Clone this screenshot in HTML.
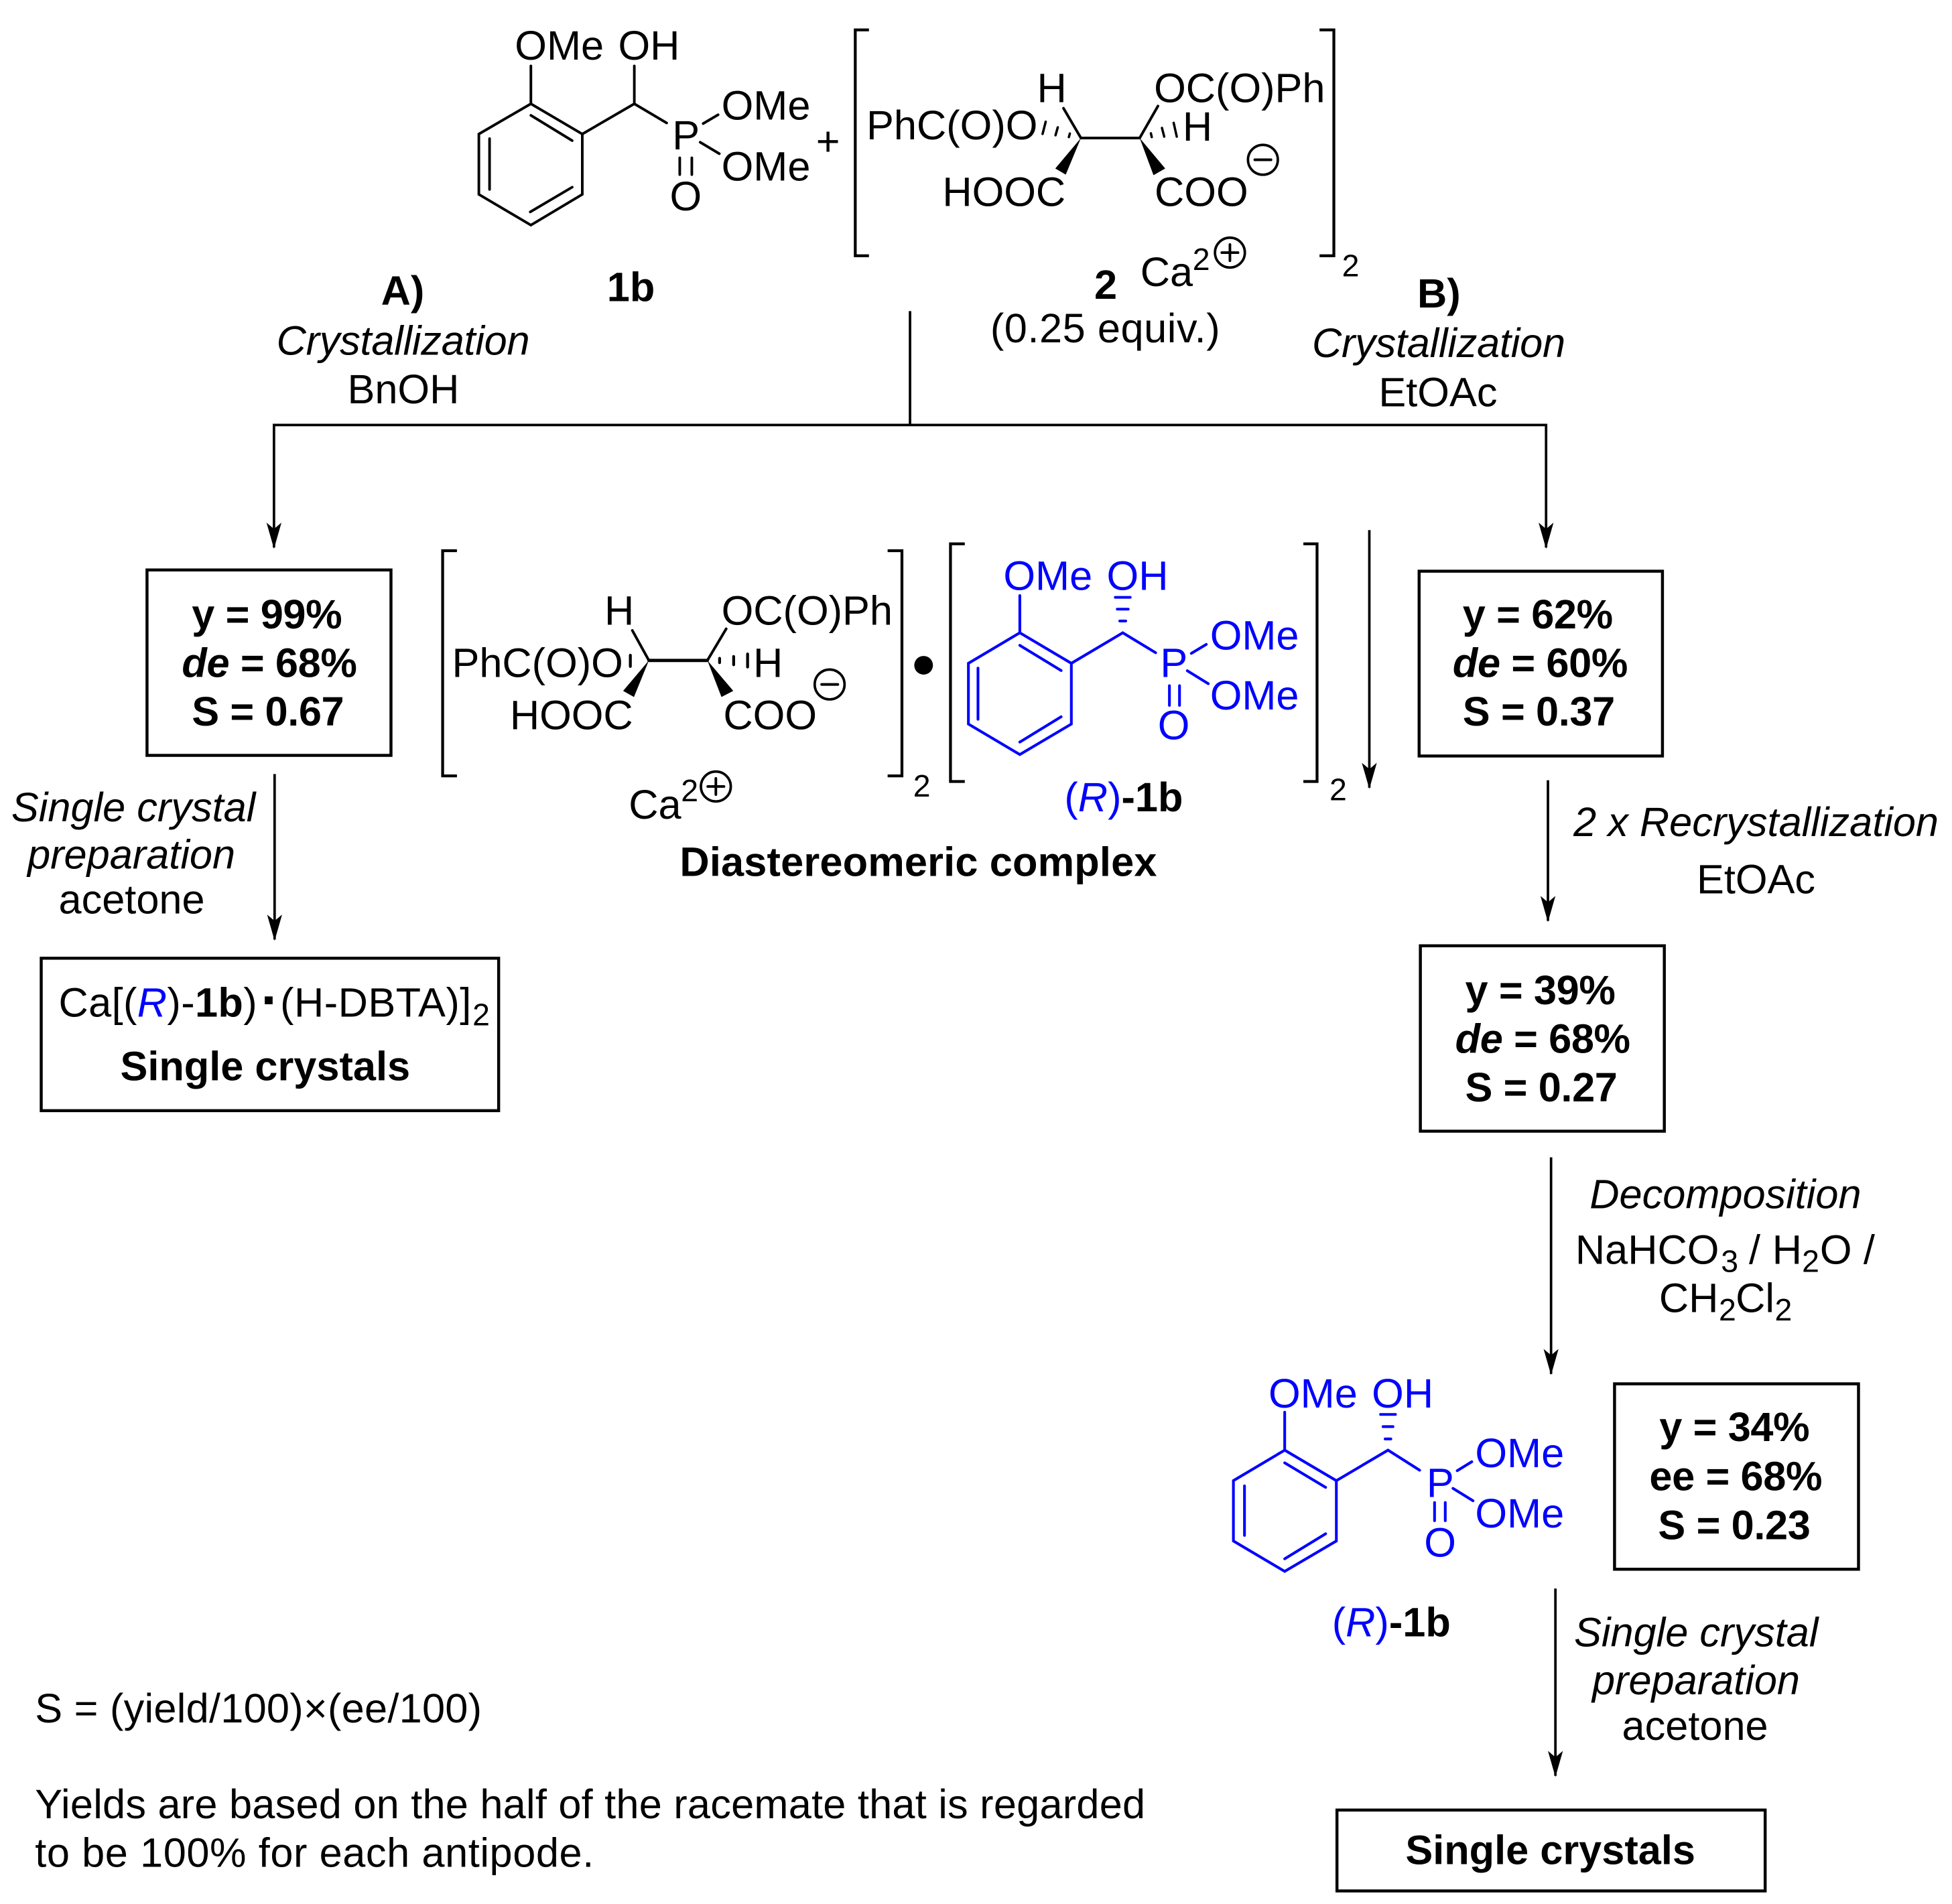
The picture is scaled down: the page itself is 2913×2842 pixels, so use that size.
<!DOCTYPE html>
<html><head><meta charset="utf-8"><style>
html,body{margin:0;padding:0;background:#fff}
svg{display:block}
text{font-family:"Liberation Sans",Arial,sans-serif;font-size:33px;fill:#000;white-space:pre}
.b{font-weight:bold}.i{font-style:italic}.bl{fill:#00f}.s{font-size:25px}
.t{letter-spacing:-.2px}
.c{letter-spacing:-.13px}
.k{stroke:#000;stroke-width:2.1;fill:none;stroke-linecap:round;stroke-linejoin:miter}
.u{stroke:#00f;stroke-width:2.2;fill:none;stroke-linecap:round;stroke-linejoin:miter}
.box{stroke:#000;stroke-width:2.4;fill:none}
.br{stroke:#000;stroke-width:2.3;fill:none}
.ln{stroke:#000;stroke-width:2;fill:none}
.h{stroke:#000;stroke-width:1.9;fill:none;stroke-linecap:round}
</style></head><body>
<svg xmlns="http://www.w3.org/2000/svg" width="2913" height="2842" viewBox="0 0 1568 1530">
<rect width="1568" height="1530" fill="#fff"/>

<!-- 1b top -->
<path class="k" d="M426.4 83.4L467.7 107.7V156.2L426.4 180.9L384.6 156.2V107.7Z"/>
<path class="k" d="M426.4 92.7L459.6 113M393.2 111.4V152.2M425.9 170.3L459.6 150.4M426.4 53V83.4M467.7 107.7L509.5 83.4L535.5 98.8M509.5 53V83.4M564.8 99.3L576.8 92.2M562.4 114.3L577.8 123.5M546 126.8V140.3M555.7 126.8V140.3"/>
<text x="413.500" y="48">OMe</text><text x="496.500" y="48">OH</text>
<text x="540" y="120">P</text><text x="538" y="169">O</text>
<text x="579.500" y="96">OMe</text><text x="579.500" y="145">OMe</text>
<text x="655.500" y="125">+</text>

<!-- 2 top -->
<path class="br" d="M698 24H687V205.500H698M1060 24H1071.500V205.500H1060"/>
<text class="s" x="1078" y="222">2</text>
<path class="k" d="M868.300 110.900H915.500"/>
<path class="k" d="M854.300 87L868.300 110.900M930.200 85.200L915.500 110.900"/>
<path d="M868.300 110.900L847.700 135.400L856.100 140.300ZM915.500 110.900L926.600 140.800L936 135.400Z"/>
<path class="h" d="M859.400 107.300L858.600 110.200M849.700 102.300L847.900 108.700M840 97.800L837.500 107.600M924.500 107.100L925.200 110.200M933.400 102.800L935.200 109.800M942.800 98.700L945.300 109.800"/>
<text x="833" y="82">H</text><text x="927" y="82">OC(O)Ph</text>
<text x="696" y="112">PhC(O)O</text><text x="950" y="113">H</text>
<text x="757" y="165.500">HOOC</text><text x="927.500" y="165.500">COO</text>
<circle class="ln" cx="1014.500" cy="128.400" r="12"/><path class="k" d="M1008 128.400H1021"/>
<text x="916" y="230">Ca</text><text class="s" x="958" y="217">2</text>
<circle class="ln" cx="988" cy="203" r="12"/><path class="k" d="M981.500 203H994.500M988 196.500V209.500"/>
<text class="b" x="879" y="240">2</text>
<text class="b" x="487.500" y="242">1b</text>
<text x="795.500" y="275" style="letter-spacing:.3px">(0.25 equiv.)</text>

<!-- top connectors -->
<path class="ln" d="M731 250V341.500M220 440V341.500H1242V440M1100 426V633M220.500 622V755M1243.500 627V740M1246 930V1104M1249.500 1276.500V1427"/>
<path d="M220 441L214 420L220 425L226 420Z"/>
<path d="M1242 441L1236 420L1242 425L1248 420Z"/>
<path d="M1100 634L1094 613L1100 618L1106 613Z"/>
<path d="M220.500 756L214.500 735L220.500 740L226.500 735Z"/>
<path d="M1243.500 741L1237.500 720L1243.500 725L1249.500 720Z"/>
<path d="M1246 1105L1240 1084L1246 1089L1252 1084Z"/>
<path d="M1249.500 1428L1243.500 1407L1249.500 1412L1255.500 1407Z"/>

<text class="b" x="306" y="245">A)</text>
<text class="i c" x="222" y="285">Crystallization</text>
<text x="279" y="324">BnOH</text>
<text class="b" x="1138.500" y="247">B)</text>
<text class="i c" x="1054" y="287">Crystallization</text>
<text x="1107.500" y="326.500">EtOAc</text>

<!-- Box A -->
<rect class="box" x="118" y="458" width="196" height="149"/>
<text class="b t" x="154" y="505">y = 99%</text>
<text class="b t" x="146" y="544"><tspan class="i">de</tspan> = 68%</text>
<text class="b t" x="154" y="583">S = 0.67</text>
<text class="i" x="9" y="660">Single crystal</text>
<text class="i" x="22" y="698">preparation</text>
<text x="47" y="734">acetone</text>
<rect class="box" x="33" y="770" width="367.500" height="122.500"/>
<text x="47" y="817" style="letter-spacing:.2px">Ca[(<tspan class="i bl">R</tspan>)-<tspan class="b">1b</tspan>)</text>
<rect x="212.600" y="800.700" width="6.300" height="6.300"/>
<text x="225" y="817" style="letter-spacing:.25px">(H-DBTA)]</text>
<text class="s" x="379.500" y="824">2</text>
<text class="b" x="96.500" y="868">Single crystals</text>

<!-- middle complex -->
<path class="br" d="M367 442.500H355.500V623.500H367M713 442.500H724.500V623.500H713"/>
<text class="s" x="733.500" y="640">2</text>
<path class="k" d="M521.200 530.700H568.200" style="stroke-width:2.6"/>
<path class="k" d="M507.900 506.600L521.200 530.700M583.300 505.300L568.200 530.700"/>
<path d="M521.200 530.700L500.500 555.200L509.200 560.100ZM568.200 530.700L579.500 560.100L589 555.200Z"/>
<path class="h" style="stroke-width:2.3" d="M506.300 526.500V535.500M578 529V532.500M589.300 527.500V534.200M600.500 525.500V536"/>
<text x="485.500" y="502">H</text><text x="579.500" y="502">OC(O)Ph</text>
<text x="363" y="544">PhC(O)O</text><text x="605" y="544">H</text>
<text x="409.500" y="586">HOOC</text><text x="581" y="586">COO</text>
<circle class="ln" cx="666.400" cy="550" r="12"/><path class="k" d="M660 550H673"/>
<text x="505" y="658">Ca</text><text class="s" x="547" y="644">2</text>
<circle class="ln" cx="575" cy="632" r="12"/><path class="k" d="M568.500 632H581.500M575 625.500V638.500"/>
<circle cx="741.900" cy="534.600" r="7.500"/>
<path class="br" d="M775 437H763.500V628H775M1047 437H1058V628H1047"/>
<text class="s" x="1068" y="643">2</text>

<path class="u" d="M819.200 508.500L860.600 533V581.800L819.200 606.300L777.900 581.800V533Z"/>
<path class="u" d="M819.200 518.600L852.400 538.800M785.600 536.900V578M819.200 596.300L852.400 576M819.200 478.600V508.500M860.600 533L901.900 508.500L928.300 524.500M957 525L969 517.800M953.800 539L970.600 549.400M939.400 551V566.800M947.500 551V566.800"/>
<path class="u" d="M899.500 499H904.300M897.500 489.500H906.300M895.900 480H907.900"/>
<text class="bl" x="806" y="474">OMe</text><text class="bl" x="889" y="474">OH</text>
<text class="bl" x="932" y="544">P</text><text class="bl" x="930" y="594">O</text>
<text class="bl" x="972" y="522">OMe</text><text class="bl" x="972" y="570">OMe</text>
<text x="855" y="652"><tspan class="bl">(</tspan><tspan class="bl i">R</tspan><tspan class="bl">)</tspan><tspan class="b">-1b</tspan></text>
<text class="b" x="546" y="704" style="letter-spacing:.09px">Diastereomeric complex</text>

<!-- right column -->
<rect class="box" x="1140" y="459" width="195.500" height="148.500"/>
<text class="b t" x="1175" y="505">y = 62%</text>
<text class="b t" x="1167" y="544"><tspan class="i">de</tspan> = 60%</text>
<text class="b t" x="1175" y="583">S = 0.37</text>
<text class="i" x="1264" y="672">2 x Recrystallization</text>
<text x="1363" y="718">EtOAc</text>
<rect class="box" x="1141" y="760" width="196" height="149"/>
<text class="b t" x="1177" y="807">y = 39%</text>
<text class="b t" x="1169" y="846"><tspan class="i">de</tspan> = 68%</text>
<text class="b t" x="1177" y="885">S = 0.27</text>
<text class="i" x="1277" y="971">Decomposition</text>
<text x="1265.500" y="1015.500">NaHCO</text><text class="s" x="1382.500" y="1022">3</text><text x="1405" y="1015.500">/</text><text x="1423.700" y="1015.500">H</text><text class="s" x="1447.600" y="1022">2</text><text x="1462" y="1015.500">O</text><text x="1497" y="1015.500">/</text>
<text x="1332.800" y="1054.500">CH</text><text class="s" x="1380.800" y="1061">2</text><text x="1394.300" y="1054.500">Cl</text><text class="s" x="1425.700" y="1061">2</text>

<path class="u" d="M1032 1165.300L1073.500 1189.800V1238.300L1032 1262.700L990.800 1238.300V1189.800Z"/>
<path class="u" d="M1032 1175.500L1064.900 1195.200M999.700 1194V1233.800M1032 1252.600L1064.900 1232.500M1032 1134.800V1165.300M1073.500 1189.800L1115 1165.300L1140.400 1181.400M1170.600 1181.800L1182.300 1174.600M1167.200 1196L1183.300 1206M1152.400 1207.400V1222M1161 1207.400V1222"/>
<path class="u" d="M1112.700 1156.300H1117.300M1111 1146.400H1119M1109 1136.600H1121"/>
<text class="bl" x="1019" y="1131">OMe</text><text class="bl" x="1102" y="1131">OH</text>
<text class="bl" x="1146" y="1203">P</text><text class="bl" x="1144" y="1251">O</text>
<text class="bl" x="1185" y="1179">OMe</text><text class="bl" x="1185" y="1227.500">OMe</text>
<rect class="box" x="1297" y="1112" width="196" height="149"/>
<text class="b t" x="1333" y="1158">y = 34%</text>
<text class="b t" x="1325" y="1197.500">ee = 68%</text>
<text class="b t" x="1332" y="1237">S = 0.23</text>
<text x="1070" y="1315"><tspan class="bl">(</tspan><tspan class="bl i">R</tspan><tspan class="bl">)</tspan><tspan class="b">-1b</tspan></text>
<text class="i" x="1264.500" y="1323">Single crystal</text>
<text class="i" x="1279" y="1361.500">preparation</text>
<text x="1303" y="1398">acetone</text>
<rect class="box" x="1074" y="1454.500" width="344" height="65"/>
<text class="b" x="1129" y="1498">Single crystals</text>

<text x="28" y="1384" textLength="359" lengthAdjust="spacing">S = (yield/100)×(ee/100)</text>
<text x="28" y="1461" textLength="892" lengthAdjust="spacing">Yields are based on the half of the racemate that is regarded</text>
<text x="28" y="1500" textLength="449" lengthAdjust="spacing">to be 100% for each antipode.</text>
</svg>
</body></html>
